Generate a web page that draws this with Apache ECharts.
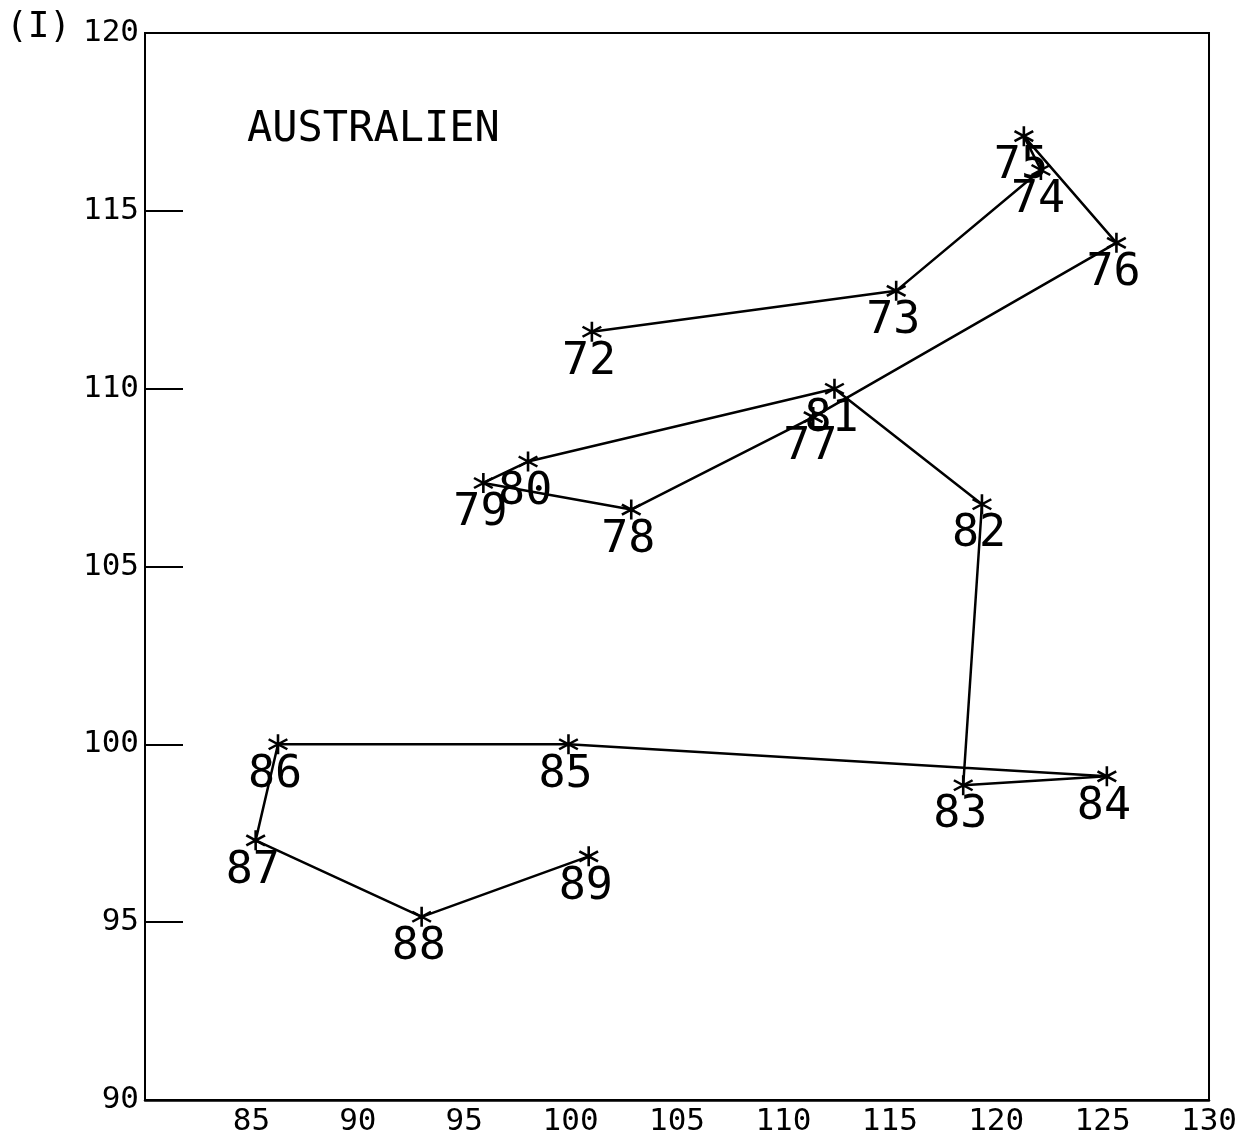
<!DOCTYPE html>
<html>
<head>
<meta charset="utf-8">
<script src="https://cdn.jsdelivr.net/npm/echarts@6/dist/echarts.min.js"></script>
<style>
html,body{margin:0;padding:0;background:#fff;overflow:hidden;}
#chart{width:1240px;height:1137px;}
</style>
</head>
<body>
<div id="chart"></div>
<script>
// Data
const years = ['72','73','74','75','76','77','78','79','80','81','82','83','84','85','86','87','88','89'];
const xValues = [101.0, 115.3, 122.1, 121.3, 125.65, 111.4, 102.85, 95.9, 98.0, 112.4, 119.33, 118.45, 125.2, 99.9, 86.25, 85.2, 93.0, 100.85];
const yValues = [111.6, 112.75, 116.15, 117.1, 114.1, 109.2, 106.6, 107.35, 107.95, 110.0, 106.75, 98.85, 99.1, 100.0, 100.0, 97.3, 95.15, 96.85];
const xTicks = [80, 85, 90, 95, 100, 105, 110, 115, 120, 125, 130];
const yTicks = [90, 95, 100, 105, 110, 115, 120];
const title = 'AUSTRALIEN';
const panel = '(I)';

const font = 'DejaVu Sans Mono';
const star = 'path://M44 0 L56 0 L56 100 L44 100 Z M90.3 19.8 L96.3 30.2 L9.7 80.2 L3.7 69.8 Z M3.7 30.2 L9.7 19.8 L96.3 69.8 L90.3 80.2 Z';

const chart = echarts.init(document.getElementById('chart'));
chart.setOption({
  animation: false,
  backgroundColor: '#fff',
  grid: { left: 145, right: 28, top: 33, bottom: 33, show: true, borderColor: '#000', borderWidth: 2, backgroundColor: 'transparent' },
  graphic: [
    { type: 'text', left: 6, top: 10, style: { text: panel, font: '36px "' + font + '"', fill: '#000' } },
    { type: 'text', left: 247, top: 109, style: { text: title, font: '42px "' + font + '"', fill: '#000' } }
  ],
  xAxis: {
    type: 'value', min: xTicks[0], max: xTicks[xTicks.length - 1], interval: 5,
    axisLine: { show: true, lineStyle: { color: '#000', width: 2.5 } },
    axisTick: { show: false },
    splitLine: { show: false },
    axisLabel: {
      margin: 6, color: '#000', fontFamily: font, fontSize: 31,
      formatter: v => (v === xTicks[0] ? '' : String(v))
    }
  },
  yAxis: {
    type: 'value', min: yTicks[0], max: yTicks[yTicks.length - 1], interval: 5,
    axisLine: { show: true, lineStyle: { color: '#000', width: 2 } },
    axisTick: { show: true, inside: true, length: 38, lineStyle: { color: '#000', width: 2 } },
    splitLine: { show: false },
    axisLabel: { margin: 6, color: '#000', fontFamily: font, fontSize: 31 }
  },
  series: [{
    type: 'line',
    data: xValues.map((x, i) => [x, yValues[i]]),
    symbol: star,
    symbolSize: 20,
    itemStyle: { color: '#000' },
    lineStyle: { color: '#000', width: 2.5 },
    label: {
      show: true,
      position: [-20, 18],
      align: 'left',
      verticalAlign: 'top',
      formatter: p => years[p.dataIndex],
      fontFamily: font, fontSize: 45, color: '#000', lineHeight: 45
    },
    labelLayout: { hideOverlap: false }
  }]
});
</script>
</body>
</html>
